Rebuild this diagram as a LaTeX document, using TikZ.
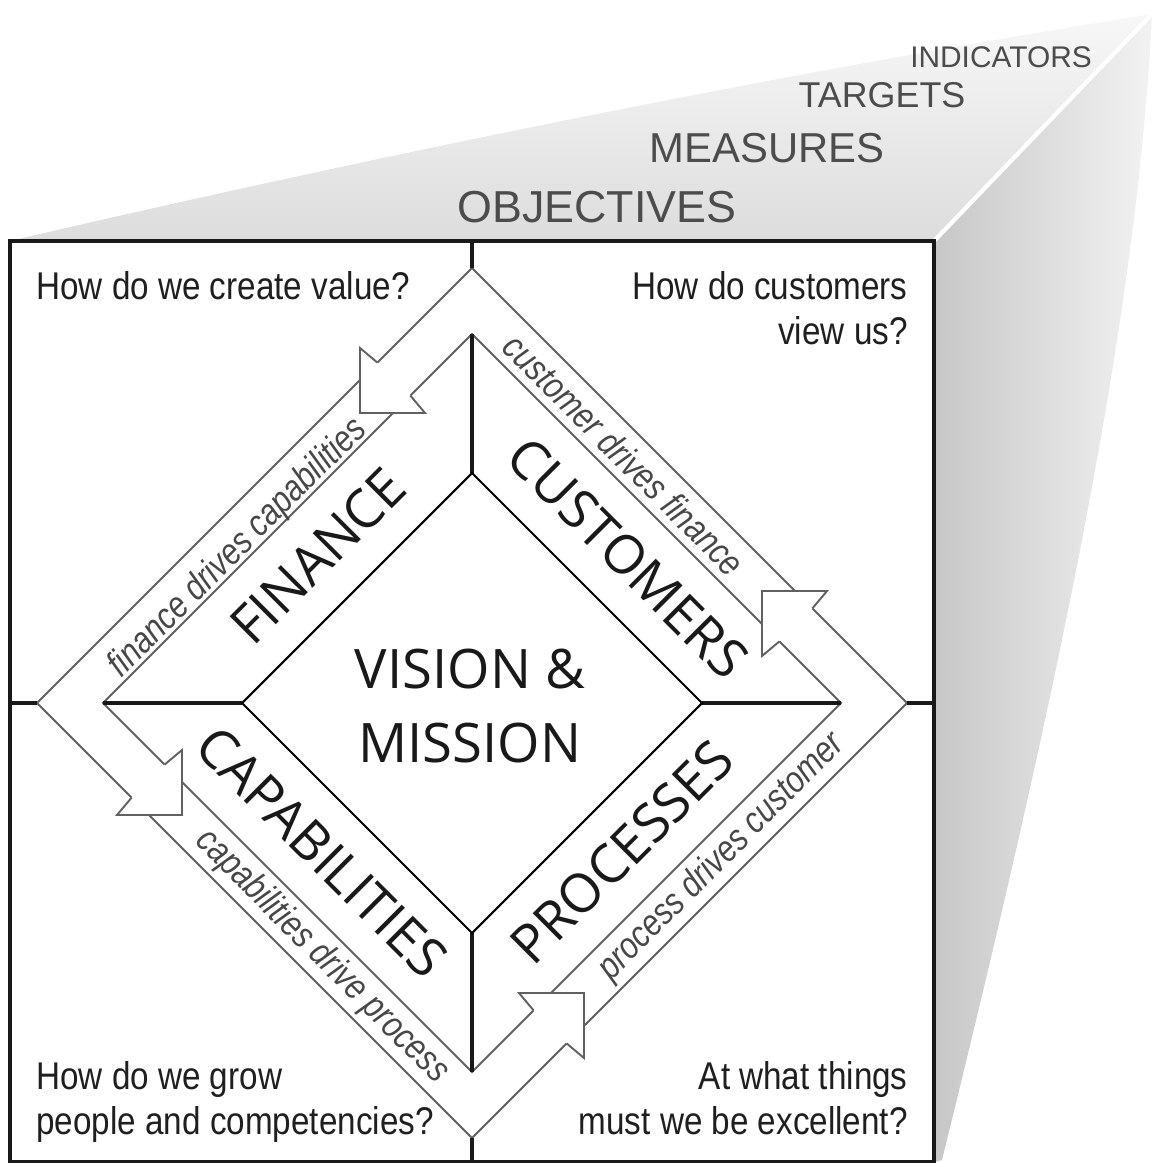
\documentclass[tikz,border=0pt]{standalone}
\usepackage{fontspec}
\usetikzlibrary{calc}
\newfontfamily\headfont{Liberation Sans}
\newfontfamily\narrowfont[FakeStretch=0.86]{Liberation Sans}
\newfontfamily\bandfont[FakeStretch=0.83]{Liberation Sans}
\newfontfamily\labelfont{Open Sans}

\tikzset{
  frameline/.style={line width=2.4pt, draw=black!90},
  midline/.style={line width=2.2pt, draw=black!90},
  bandline/.style={line width=1.1pt, draw=black!62},
  coreline/.style={line width=1.2pt, draw=black},
  headshape/.style={fill=white, draw=black!62, line width=1.1pt, line join=miter},
  question/.style={font=\narrowfont\fontsize{22}{26}\selectfont, text=black!88, inner sep=0pt},
  tier/.style={font=\headfont\fontsize{#1}{#1}\selectfont, text=black!70, inner sep=0pt},
  quadrant/.style={font=\labelfont\fontsize{30.5}{36}\selectfont, text=black!90, inner sep=0pt},
  bandtext/.style={font=\bandfont\itshape\fontsize{21}{24}\selectfont, text=black!72, inner sep=0pt},
}

% arrowhead sitting on the band: #1 tip, #2/#3 = x/y sign of the pointing direction
\newcommand\drawhead[3]{%
  \filldraw[headshape]
    ($(#1)+({-50.4*#2},{-17.4*#3})$) -- ($(#1)+({-65*#2},0)$) -- (#1)
    -- ($(#1)+(0,{-65*#3})$) -- ($(#1)+({-17.4*#2},{-50.4*#3})$);
}

\begin{document}
\begin{tikzpicture}[x=0.02cm, y=-0.02cm]
\useasboundingbox (0,0) rectangle (1156,1163);

% front face corners and the far corners of the prism
\coordinate (fTL) at (10,241);
\coordinate (fTR) at (934,241);
\coordinate (fBR) at (934,1162);
\coordinate (fBL) at (10,1162);
\coordinate (bTR) at (1152,14);
\coordinate (bBR) at (942,1160);

% top and side faces
\shade[top color=gray!6, bottom color=gray!27]
  (fTL) .. controls (400,150) and (800,70) .. (bTR) -- (fTR) -- cycle;
\shade[left color=gray!44, right color=gray!10]
  (fTR) -- (bTR) .. controls (1138,300) and (1068,650) .. (bBR) -- (fBR) -- cycle;
\draw[white, line width=2.4pt] (fTR) -- (bTR);

% front face
\fill[white] (fTL) rectangle (fBR);

% diamonds: outer band edge, inner band edge, core
\coordinate (oT) at (472,268);  \coordinate (oR) at (907,703);
\coordinate (oB) at (472,1138); \coordinate (oL) at (37,703);
\coordinate (iT) at (472,334);  \coordinate (iR) at (841,703);
\coordinate (iB) at (472,1072); \coordinate (iL) at (103,703);
\coordinate (cT) at (472,473);  \coordinate (cR) at (702,703);
\coordinate (cB) at (472,933);  \coordinate (cL) at (242,703);

\draw[bandline, line join=miter] (oT) -- (oR) -- (oB) -- (oL) -- cycle;
\draw[bandline, line join=miter] (iT) -- (iR) -- (iB) -- (iL) -- cycle;

% arrowheads along the band
\coordinate (hCus) at (762,591);
\coordinate (hFin) at (360,413);
\coordinate (hCap) at (182,815);
\coordinate (hPro) at (584,993);
\drawhead{hCus}{-1}{-1}
\drawhead{hFin}{-1}{1}
\drawhead{hCap}{1}{1}
\drawhead{hPro}{1}{-1}

% quadrant dividers
\coordinate (mT) at (472,241); \coordinate (mB) at (472,1162);
\coordinate (mL) at (10,703);  \coordinate (mR) at (934,703);
\draw[midline] (mT) -- (oT);
\draw[midline] (oB) -- (mB);
\draw[midline] (mL) -- (oL);
\draw[midline] (oR) -- (mR);
\draw[midline] (iT) -- (cT);
\draw[midline] (iB) -- (cB);
\draw[midline] (iL) -- (cL);
\draw[midline] (iR) -- (cR);

% core diamond
\draw[coreline, line join=miter] (cT) -- (cR) -- (cB) -- (cL) -- cycle;

% frame
\draw[frameline] (fTL) rectangle (fBR);

% levels on the top face
\node[tier=25.5, anchor=base] (tObj) at (597,222) {OBJECTIVES};
\node[tier=23.8, anchor=base] (tMea) at (767,162) {MEASURES};
\node[tier=20.4, anchor=base] (tTar) at (882,107) {TARGETS};
\node[tier=17, anchor=base]   (tInd) at (1001,67) {INDICATORS};

% questions in the corners
\node[question, anchor=base west] (qFin)  at (36,299)   {How do we create value?};
\node[question, anchor=base east] (qCus1) at (908,299)  {How do customers};
\node[question, anchor=base east] (qCus2) at (908,344)  {view us?};
\node[question, anchor=base west] (qCap1) at (36,1089)  {How do we grow};
\node[question, anchor=base west] (qCap2) at (36,1134)  {people and competencies?};
\node[question, anchor=base east] (qPro1) at (908,1089) {At what things};
\node[question, anchor=base east] (qPro2) at (908,1134) {must we be excellent?};

% perspectives
\node[quadrant, rotate=45]  (lFin) at (318,556) {FINANCE};
\node[quadrant, rotate=-45] (lCus) at (628,558) {CUSTOMERS};
\node[quadrant, rotate=-45] (lCap) at (322,852) {CAPABILITIES};
\node[quadrant, rotate=45]  (lPro) at (622,852) {PROCESSES};
\node[quadrant, align=center, font=\labelfont\fontsize{31}{42}\selectfont] (lVis) at (470,706) {VISION \&\\MISSION};

% labels on the band
\node[bandtext, rotate=-45] (bCus) at (624,455) {customer drives finance};
\node[bandtext, rotate=45]  (bFin) at (238,548) {finance drives capabilities};
\node[bandtext, rotate=-45] (bCap) at (322,957) {capabilities drive process};
\node[bandtext, rotate=45]  (bPro) at (722,857) {process drives customer};
\end{tikzpicture}
\end{document}
